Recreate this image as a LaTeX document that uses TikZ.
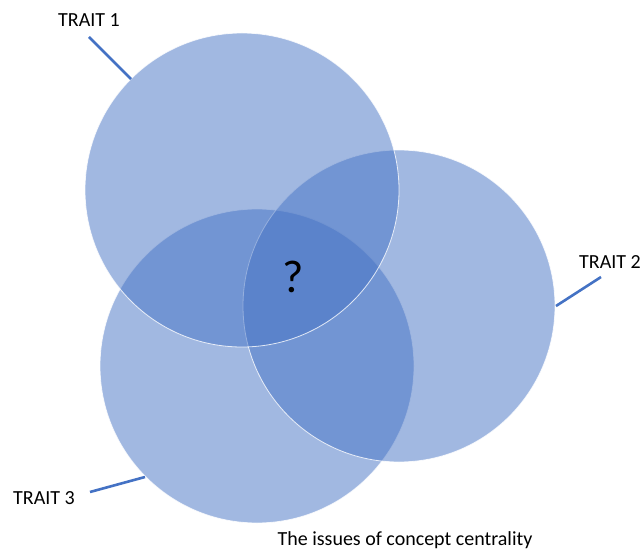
\documentclass[tikz,border=0pt]{standalone}
\usepackage{fontspec}
\setmainfont{Carlito}
\definecolor{venn}{HTML}{4472C4}
\begin{document}
\begin{tikzpicture}[x=1pt,y=-1pt,
  setdisc/.style={fill=venn,fill opacity=0.5,draw=white,draw opacity=0.8,line width=0.8pt},
  pointer/.style={draw=venn,line width=2.6pt},
  tag/.style={font=\fontsize{20}{24}\selectfont,inner sep=0pt,anchor=center}]
  \useasboundingbox (0,0) rectangle (644,553);
  % the three trait discs
  \path[setdisc] (257,366) circle[radius=157];
  \path[setdisc] (399,306) circle[radius=156];
  \path[setdisc] (242,190) circle[radius=157];
  % labels
  \node[tag] (t1) at (89,20) {TRAIT 1};
  \node[tag] (t2) at (610,262) {TRAIT 2};
  \node[tag] (t3) at (44,498) {TRAIT 3};
  \node[font=\fontsize{46}{50}\selectfont,inner sep=0pt] (q) at (293,277) {?};
  \node[tag] (cap) at (405,540) {The issues of concept centrality};
  % leader lines
  \coordinate (a1) at (89,37);  \coordinate (b1) at (131,79);
  \coordinate (a2) at (601,277); \coordinate (b2) at (556,306);
  \coordinate (a3) at (90,492); \coordinate (b3) at (145,477);
  \draw[pointer] (a1) -- (b1);
  \draw[pointer] (a2) -- (b2);
  \draw[pointer] (a3) -- (b3);
\end{tikzpicture}
\end{document}
